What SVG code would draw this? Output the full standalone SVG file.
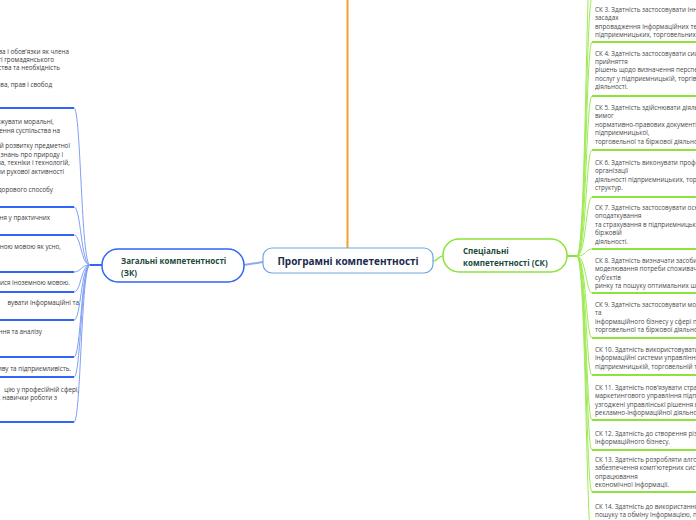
<svg xmlns="http://www.w3.org/2000/svg" width="696" height="520" viewBox="0 0 696 520">
<style>
.lt{font-family:"Open Sans","Liberation Sans",sans-serif;font-size:6.3px;fill:#3a3a3a;text-anchor:end}
.rt{font-family:"Open Sans","Liberation Sans",sans-serif;font-size:6.3px;fill:#4a4a4a}
.lb{stroke:#2f66f5;stroke-width:2;fill:none}
.rb{stroke:#8ee23c;stroke-width:2;fill:none}
.lc{stroke:#7f9ff6;stroke-width:1;fill:none}
.rc{stroke:#9fea55;stroke-width:1;fill:none}
.pt{font-family:"Open Sans","Liberation Sans",sans-serif;font-size:8px;font-weight:bold;fill:#21493b}
</style>
<rect width="696" height="520" fill="#fff"/>
<g id="connectors">
<line x1="347.5" y1="0" x2="347.5" y2="248" stroke="#f6a02c" stroke-width="2"/>
<path d="M244,265 L263,262" stroke="#8ea8f2" stroke-width="2" fill="none"/>
<path d="M433,261 C438,261 438,256 443,256" stroke="#92e346" stroke-width="1.5" fill="none"/>
<line x1="90" y1="265" x2="102" y2="265" stroke="#2f66f5" stroke-width="2"/>
<path class="lc" d="M74,108 C81,108 81,265 90,265"/>
<path class="lc" d="M74,207 C81,207 81,265 90,265"/>
<path class="lc" d="M74,235 C81,235 81,265 90,265"/>
<path class="lc" d="M74,272 C81,272 81,265 90,265"/>
<path class="lc" d="M74,292 C81,292 81,265 90,265"/>
<path class="lc" d="M74,320 C81,320 81,265 90,265"/>
<path class="lc" d="M74,357 C81,357 81,265 90,265"/>
<path class="lc" d="M74,377 C81,377 81,265 90,265"/>
<path class="lc" d="M74,422 C81,422 81,265 90,265"/>
<line x1="567" y1="256" x2="577" y2="256" stroke="#8ee23c" stroke-width="2"/>
<path class="rc" d="M577,256 C586,256 586,-60 592,-60"/>
<path class="rc" d="M577,256 C586,256 586,-2 592,-2"/>
<path class="rc" d="M577,256 C586,256 586,42 592,42"/>
<path class="rc" d="M577,256 C586,256 586,96 592,96"/>
<path class="rc" d="M577,256 C586,256 586,150 592,150"/>
<path class="rc" d="M577,256 C586,256 586,197 592,197"/>
<path class="rc" d="M577,256 C586,256 586,249 592,249"/>
<path class="rc" d="M577,256 C586,256 586,293 592,293"/>
<path class="rc" d="M577,256 C586,256 586,338 592,338"/>
<path class="rc" d="M577,256 C586,256 586,375 592,375"/>
<path class="rc" d="M577,256 C586,256 586,420 592,420"/>
<path class="rc" d="M577,256 C586,256 586,450 592,450"/>
<path class="rc" d="M577,256 C586,256 586,492 592,492"/>
<path class="rc" d="M577,256 C586,256 586,545 592,545"/>
</g>
<g id="root">
<rect x="263" y="248" width="170" height="25" rx="9" fill="#fff" stroke="#6fa6dc" stroke-width="1.2"/>
<text x="348" y="265" text-anchor="middle" font-family="'Open Sans','Liberation Sans',sans-serif" font-size="10px" font-weight="bold" fill="#1b2b4b">Програмні компетентності</text>
</g>
<g id="zk">
<rect x="102" y="249" width="142" height="33" rx="16" fill="#fff" stroke="#2f66f5" stroke-width="1.5"/>
<text class="pt" x="121" y="264">Загальні компетентності</text>
<text class="pt" x="121" y="276">(ЗК)</text>
</g>
<g id="sk">
<rect x="443" y="239" width="124" height="33" rx="16" fill="#fff" stroke="#8ee23c" stroke-width="1.5"/>
<text class="pt" x="463" y="254">Спеціальні</text>
<text class="pt" x="463" y="266">компетентності (СК)</text>
</g>
<g id="zk-1">
<text class="lt" x="69" y="54">ава і обов'язки як члена</text>
<text class="lt" x="54" y="62">ті громадянського</text>
<text class="lt" x="60" y="70">ства та необхідність</text>
<text class="lt" x="52" y="87">ава, прав і свобод</text>
<line class="lb" x1="0" y1="108" x2="74" y2="108"/>
</g>
<g id="zk-2">
<text class="lt" x="54" y="124">ожувати моральні,</text>
<text class="lt" x="60" y="133">ення суспільства на</text>
<text class="lt" x="70" y="148">ій розвитку предметної</text>
<text class="lt" x="63" y="156.5">і знань про природу і</text>
<text class="lt" x="70" y="165">ва, техніки і технологій,</text>
<text class="lt" x="64" y="173.5">ими рухової активності</text>
<text class="lt" x="53" y="192">дорового способу</text>
<line class="lb" x1="0" y1="207" x2="74" y2="207"/>
</g>
<g id="zk-3">
<text class="lt" x="50" y="220">ня у практичних</text>
<line class="lb" x1="0" y1="235" x2="74" y2="235"/>
</g>
<g id="zk-4">
<text class="lt" x="61" y="249">вною мовою як усно,</text>
<line class="lb" x1="0" y1="272" x2="74" y2="272"/>
</g>
<g id="zk-5">
<text class="lt" x="70" y="285">тися іноземною мовою.</text>
<line class="lb" x1="0" y1="292" x2="74" y2="292"/>
</g>
<g id="zk-6">
<text class="lt" x="79" y="305">вувати інформаційні та</text>
<line class="lb" x1="0" y1="320" x2="74" y2="320"/>
</g>
<g id="zk-7">
<text class="lt" x="42" y="334">ння та аналізу</text>
<line class="lb" x1="0" y1="357" x2="74" y2="357"/>
</g>
<g id="zk-8">
<text class="lt" x="71" y="371">пиву та підприємливість.</text>
<line class="lb" x1="0" y1="377" x2="74" y2="377"/>
</g>
<g id="zk-9">
<text class="lt" x="79" y="392">цію у професійній сфері,</text>
<text class="lt" x="57" y="400">, навички роботи з</text>
<line class="lb" x1="0" y1="422" x2="74" y2="422"/>
</g>
<g id="sk-2"><line class="rb" x1="592" y1="-2" x2="696" y2="-2"/></g>
<g id="sk-3">
<text class="rt" x="595" y="12">СК 3. Здатність застосовувати інно</text>
<text class="rt" x="595" y="20.4">засадах</text>
<text class="rt" x="595" y="28.8">впровадження інформаційних тех</text>
<text class="rt" x="595" y="37.2">підприємницьких, торговельних т</text>
<line class="rb" x1="592" y1="42" x2="696" y2="42"/>
</g>
<g id="sk-4">
<text class="rt" x="595" y="55.5">СК 4. Здатність застосовувати сист</text>
<text class="rt" x="595" y="64">прийняття</text>
<text class="rt" x="595" y="72.3">рішень щодо визначення перспек</text>
<text class="rt" x="595" y="80.7">послуг у підприємницькій, торгів</text>
<text class="rt" x="595" y="89">діяльності.</text>
<line class="rb" x1="592" y1="96" x2="696" y2="96"/>
</g>
<g id="sk-5">
<text class="rt" x="595" y="110">СК 5. Здатність здійснювати діяль</text>
<text class="rt" x="595" y="118.4">вимог</text>
<text class="rt" x="595" y="126.8">нормативно-правових документів</text>
<text class="rt" x="595" y="135.2">підприємницької,</text>
<text class="rt" x="595" y="143.6">торговельної та біржової діяльнос</text>
<line class="rb" x1="592" y1="150" x2="696" y2="150"/>
</g>
<g id="sk-6">
<text class="rt" x="595" y="165">СК 6. Здатність виконувати профе</text>
<text class="rt" x="595" y="173.4">організації</text>
<text class="rt" x="595" y="181.8">діяльності підприємницьких, торг</text>
<text class="rt" x="595" y="190.2">структур.</text>
<line class="rb" x1="592" y1="197" x2="696" y2="197"/>
</g>
<g id="sk-7">
<text class="rt" x="595" y="210">СК 7. Здатність застосовувати осн</text>
<text class="rt" x="595" y="218.4">оподаткування</text>
<text class="rt" x="595" y="226.8">та страхування в підприємницькій</text>
<text class="rt" x="595" y="235.2">біржовій</text>
<text class="rt" x="595" y="243.6">діяльності.</text>
<line class="rb" x1="592" y1="249" x2="696" y2="249"/>
</g>
<g id="sk-8">
<text class="rt" x="595" y="263">СК 8. Здатність визначати засоби</text>
<text class="rt" x="595" y="271.4">моделювання потреби споживачів</text>
<text class="rt" x="595" y="279.8">суб'єктів</text>
<text class="rt" x="595" y="288.2">ринку та пошуку оптимальних ш</text>
<line class="rb" x1="592" y1="293" x2="696" y2="293"/>
</g>
<g id="sk-9">
<text class="rt" x="595" y="307">СК 9. Здатність застосовувати мод</text>
<text class="rt" x="595" y="315.4">та</text>
<text class="rt" x="595" y="323.8">інформаційного бізнесу у сфері пі</text>
<text class="rt" x="595" y="332.2">торговельної та біржової діяльнос</text>
<line class="rb" x1="592" y1="338" x2="696" y2="338"/>
</g>
<g id="sk-10">
<text class="rt" x="595" y="352">СК 10. Здатність використовувати</text>
<text class="rt" x="595" y="360.4">інформаційні системи управління</text>
<text class="rt" x="595" y="368.8">підприємницькій, торговельній та</text>
<line class="rb" x1="592" y1="375" x2="696" y2="375"/>
</g>
<g id="sk-11">
<text class="rt" x="595" y="390">СК 11. Здатність пов'язувати страт</text>
<text class="rt" x="595" y="398.4">маркетингового управління підпр</text>
<text class="rt" x="595" y="406.8">узгоджені управлінські рішення в</text>
<text class="rt" x="595" y="415.2">рекламно-інформаційної діяльнос</text>
<line class="rb" x1="592" y1="420" x2="696" y2="420"/>
</g>
<g id="sk-12">
<text class="rt" x="595" y="436">СК 12. Здатність до створення різ</text>
<text class="rt" x="595" y="444.4">інформаційного бізнесу.</text>
<line class="rb" x1="592" y1="450" x2="696" y2="450"/>
</g>
<g id="sk-13">
<text class="rt" x="595" y="462">СК 13. Здатність розробляти алгор</text>
<text class="rt" x="595" y="470.4">забезпечення комп'ютерних систе</text>
<text class="rt" x="595" y="478.8">опрацювання</text>
<text class="rt" x="595" y="487.2">економічної інформації.</text>
<line class="rb" x1="592" y1="492" x2="696" y2="492"/>
</g>
<g id="sk-14">
<text class="rt" x="595" y="509">СК 14. Здатність до використання</text>
<text class="rt" x="595" y="517.4">пошуку та обміну інформацією, по</text>
</g>
</svg>
